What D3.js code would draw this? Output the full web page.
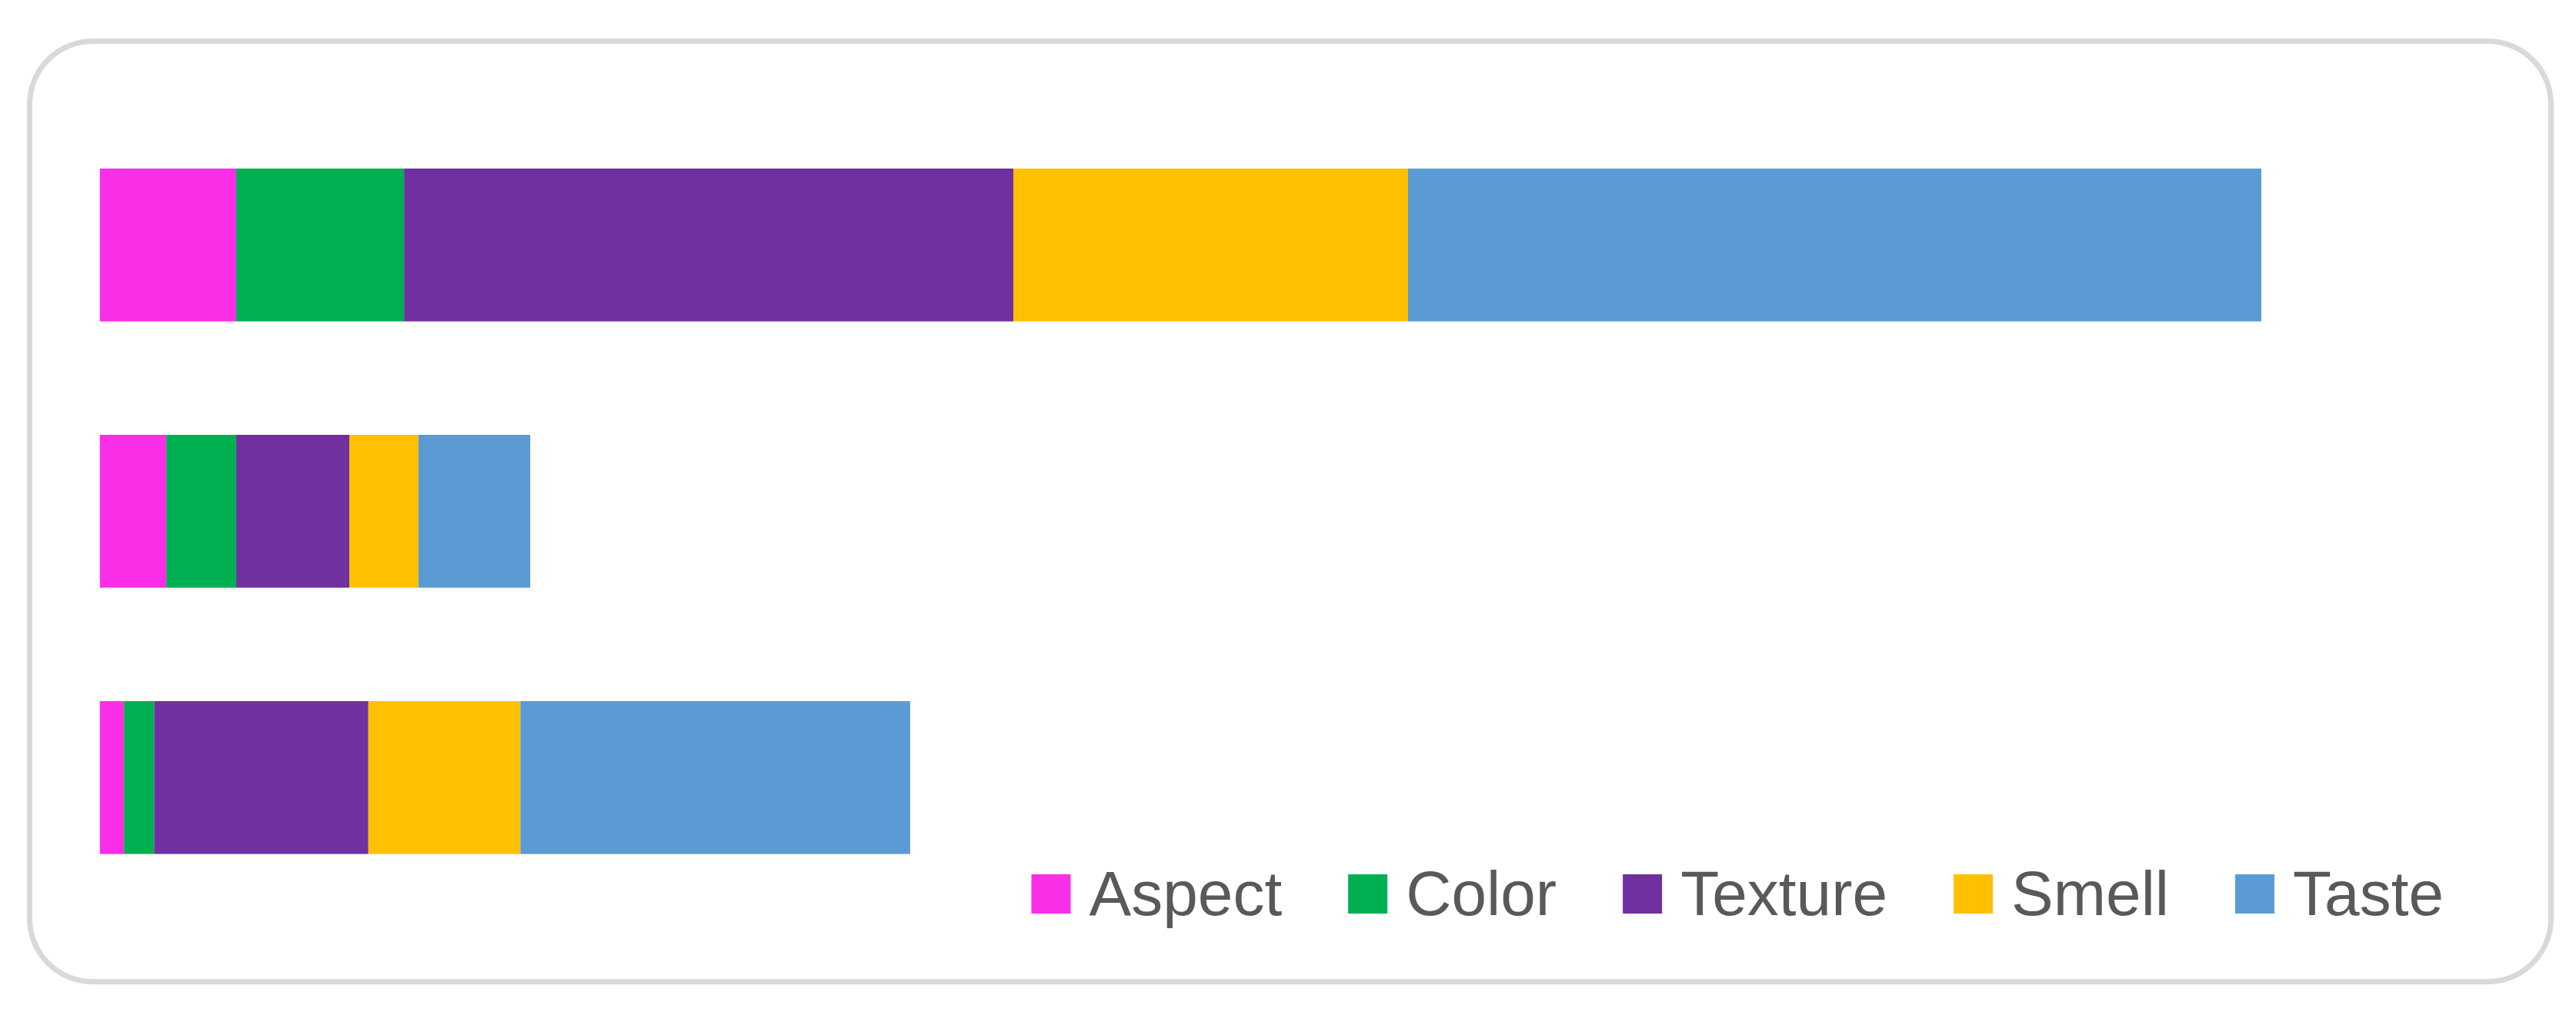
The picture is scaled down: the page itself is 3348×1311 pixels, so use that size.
<!DOCTYPE html>
<html>
<head>
<meta charset="utf-8">
<script src="https://cdn.jsdelivr.net/npm/d3@7"></script>
<style>
  body { margin: 0; background: #fff; }
  svg { display: block; }
</style>
</head>
<body>
<script>
const width = 3348;
const height = 1311;

// data (units are estimates)
const categories = ["Sample 1", "Sample 2", "Sample 3"];
const seriesNames = ["Aspect", "Color", "Texture", "Smell", "Taste"];
const aspect = [11.35, 5.53, 2.01];
const color = [13.98, 5.82, 2.51];
const texture = [50.74, 9.43, 17.84];
const smell = [32.87, 5.76, 12.66];
const taste = [71.06, 9.30, 32.46];
const colors = ["#F92EE6", "#00B050", "#7030A0", "#FFC000", "#5B9BD5"];

const rows = categories.map((c, i) => ({
  cat: c,
  Aspect: aspect[i],
  Color: color[i],
  Texture: texture[i],
  Smell: smell[i],
  Taste: taste[i]
}));

const stack = d3.stack().keys(seriesNames)(rows);

const svg = d3.select("body").append("svg")
    .attr("width", width)
    .attr("height", height);

// chart frame
svg.append("rect")
    .attr("x", 38.5)
    .attr("y", 53.5)
    .attr("width", 3277)
    .attr("height", 1222)
    .attr("rx", 82)
    .attr("fill", "#fff")
    .attr("stroke", "#D9D9D9")
    .attr("stroke-width", 7);

const x = d3.scaleLinear()
    .domain([0, 180])
    .range([129.8, 2939]);

const y = d3.scaleBand()
    .domain(categories)
    .range([145.3, 1183.3])
    .paddingInner(0.426)
    .paddingOuter(0.213);

const color_ = d3.scaleOrdinal().domain(seriesNames).range(colors);

svg.append("g")
  .selectAll("g")
  .data(stack)
  .join("g")
    .attr("fill", d => color_(d.key))
  .selectAll("rect")
  .data(d => d)
  .join("rect")
    .attr("x", d => x(d[0]))
    .attr("y", d => y(d.data.cat))
    .attr("width", d => x(d[1]) - x(d[0]))
    .attr("height", y.bandwidth());

// legend
const legend = svg.append("g")
    .attr("font-family", "'Liberation Sans', Arial, sans-serif")
    .attr("font-size", 82)
    .attr("fill", "#595959");

let lx = 1340.5;
seriesNames.forEach(name => {
  legend.append("rect")
      .attr("x", lx)
      .attr("y", 1136)
      .attr("width", 51)
      .attr("height", 51)
      .attr("fill", color_(name));
  const t = legend.append("text")
      .attr("x", lx + 75)
      .attr("y", 1189)
      .text(name);
  lx += 75 + t.node().getComputedTextLength() + 86;
});
</script>
</body>
</html>
